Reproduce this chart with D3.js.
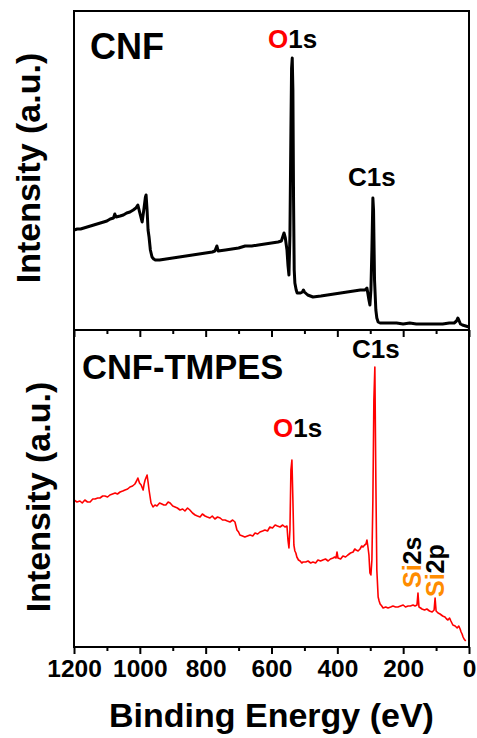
<!DOCTYPE html>
<html lang="en">
<head>
<meta charset="UTF-8">
<title>XPS survey</title>
<style>
  body { margin: 0; background: #fff; }
  text { font-family: "Liberation Sans", Arial, sans-serif; font-weight: bold; }
</style>
</head>
<body>
<div id="chart"></div>
<script src="https://d3js.org/d3.v7.min.js"></script>
<script>
// binding energy (eV) and intensity (a.u.)
var cnfEnergy = [1200,1190,1180,1170,1160,1150,1140,1130,1120,1110,1100,1090,1080,1076,1072,1060,1050,1040,1030,1020,1012,1006,1000,993,988,983,981,978,975,972,968,963,958,953,948,940,920,900,880,860,840,820,800,780,772,766,762,740,720,700,680,660,640,620,600,580,570,565,562,558,553,550,547,544,541,539,537,535,533,531,529,525,522,518,512,506,503,500,490,474,450,430,410,390,370,350,330,316,310,304,301,298,295,292,290,287,283,280,276,270,260,240,220,200,180,160,140,120,100,80,60,45,38,34,31,26,20,10,0];
var cnfIntensity = [100,101,101,102,103,104,105,106,107,108,109,111,112,116,113,114,115,117,118,120,122,125,117,108,120,133,135,120,100,93,80,73,71,70,70,70,71,72,73,74,75,76,77,78,79,84,79,80,81,82,84,84,85,86,87,88,89,94,97,92,80,65,55,95,200,262,272,240,130,60,47,40,37,37,37,38,40,38,35,33,34,35,36,37,38,39,40,40,42,30,25,40,80,132,120,50,20,12,8,7,7,7,7,6,7,6,6,6,6,6,7,7,9,12,10,6,5,4,3];

var tmpesEnergy = [1200,1191,1182,1175,1167,1159,1151,1143,1136,1128,1121,1113,1106,1098,1091,1083,1075,1068,1060,1052,1045,1037,1030,1022,1015,1010,1006,1001,996,990,987,984,978,975,972,966,960,954,948,940,933,927,921,914,908,900,893,886,878,870,863,855,848,840,832,825,817,810,802,795,787,780,772,764,756,749,741,734,726,718,711,708,705,700,696,688,681,673,665,657,650,642,635,627,620,612,605,597,589,582,574,566,559,553,550,547,544,541,538,535,532,529,526,523,518,513,508,504,496,489,481,474,466,459,451,444,436,428,421,413,408,404,401,398,390,383,375,368,360,352,347,343,337,331,326,322,317,313,310,307,304,301,298,295,292,289,286,283,280,276,273,270,265,261,253,246,238,231,223,216,208,200,193,185,178,170,164,158,155,152,147,143,135,128,120,112,109,106,103,100,94,88,80,73,68,64,59,55,52,49,42,36,31,27,24,21,18,15,10,6,3,0];
var tmpesIntensity = [147,145,146,144,147,145,145,148,148,149,149,151,151,150,152,153,154,153,155,156,157,158,160,161,163,166,169,164,162,157,163,167,172,165,157,144,140,142,141,144,143,142,142,145,144,141,140,139,137,138,136,139,137,134,132,131,130,133,131,130,129,131,128,130,129,127,127,126,125,127,125,121,117,115,112,111,110,111,112,111,114,113,115,116,117,116,120,119,122,121,120,122,120,121,107,99,117,177,187,147,102,96,94,90,87,86,84,85,85,86,84,85,84,87,86,87,88,86,88,89,90,89,95,89,88,91,90,92,94,95,98,97,96,98,101,100,102,103,107,100,92,74,72,87,147,247,280,167,77,50,46,43,41,39,40,39,40,41,40,40,41,42,40,41,41,42,41,42,54,40,39,38,37,38,36,35,36,37,49,36,34,33,31,30,28,27,29,26,24,22,21,19,21,18,15,13,10,8,6];

var xTicks = [1200, 1000, 800, 600, 400, 200, 0];
var xMinorTicks = [1100, 900, 700, 500, 300, 100];

var width = 477, height = 738;
var left = 74, right = 469, top1 = 11, mid = 330, bottom = 647;

var svg = d3.select("#chart").append("svg")
    .attr("width", width)
    .attr("height", height);

var x = d3.scaleLinear().domain([1200, 0]).range([left, right]);
var yTop = d3.scaleLinear().domain([0, 319]).range([mid, top1]);
var yBot = d3.scaleLinear().domain([0, 317]).range([bottom, mid]);

function series(en, inten) {
  return en.map(function (e, i) { return [e, inten[i]]; });
}

// top spectrum
svg.append("path")
    .datum(series(cnfEnergy, cnfIntensity))
    .attr("fill", "none")
    .attr("stroke", "#000")
    .attr("stroke-width", 3)
    .attr("stroke-linejoin", "round")
    .attr("d", d3.line().x(function (d) { return x(d[0]); }).y(function (d) { return yTop(d[1]); }));

// bottom spectrum
svg.append("path")
    .datum(series(tmpesEnergy, tmpesIntensity))
    .attr("fill", "none")
    .attr("stroke", "#ff0000")
    .attr("stroke-width", 1.6)
    .attr("stroke-linejoin", "round")
    .attr("d", d3.line().x(function (d) { return x(d[0]); }).y(function (d) { return yBot(d[1]); }));

// frames
var frame = svg.append("g").attr("fill", "none").attr("stroke", "#000").attr("stroke-width", 2);
frame.append("rect").attr("x", left).attr("y", top1).attr("width", right - left).attr("height", mid - top1);
frame.append("rect").attr("x", left).attr("y", mid).attr("width", right - left).attr("height", bottom - mid);

// x axes (ticks pointing outward/down)
function ticksAt(y, labels) {
  var ax = d3.axisBottom(x).tickValues(xTicks).tickSize(7).tickFormat(labels ? d3.format("d") : "");
  var g = svg.append("g").attr("transform", "translate(0," + y + ")").call(ax);
  g.select(".domain").remove();
  g.selectAll(".tick line").attr("stroke", "#000").attr("stroke-width", 2);
  g.selectAll(".tick text")
    .attr("fill", "#000")
    .attr("font-size", 24.5)
    .attr("y", 13)
    .attr("dy", "0.71em");
  var m = svg.append("g").attr("transform", "translate(0," + y + ")")
      .call(d3.axisBottom(x).tickValues(xMinorTicks).tickSize(4).tickFormat(""));
  m.select(".domain").remove();
  m.selectAll(".tick line").attr("stroke", "#000").attr("stroke-width", 2);
}
ticksAt(mid, false);
ticksAt(bottom, true);

svg.append("text")
    .attr("x", (left + right) / 2)
    .attr("y", 727)
    .attr("text-anchor", "middle")
    .attr("font-size", 34)
    .text("Binding Energy (eV)");

svg.append("text")
    .attr("transform", "translate(40,168) rotate(-90)")
    .attr("text-anchor", "middle")
    .attr("font-size", 34)
    .text("Intensity (a.u.)");
svg.append("text")
    .attr("transform", "translate(50,497) rotate(-90)")
    .attr("text-anchor", "middle")
    .attr("font-size", 34)
    .text("Intensity (a.u.)");

// panel names
svg.append("text").attr("x", 90).attr("y", 59).attr("font-size", 36).text("CNF");
svg.append("text").attr("x", 82).attr("y", 379).attr("font-size", 34.5).text("CNF-TMPES");

// peak labels
function peak(px, py, head, tail, color, rot) {
  var t = svg.append("text").attr("font-size", rot ? 25 : 26);
  if (rot) t.attr("transform", "translate(" + px + "," + py + ") rotate(-90)");
  else t.attr("x", px).attr("y", py);
  t.append("tspan").attr("fill", color).text(head);
  t.append("tspan").attr("fill", "#000").text(tail);
}
peak(268, 48, "O", "1s", "#ff0000");
peak(348, 186, "C", "1s", "#000");
peak(352, 358, "C", "1s", "#000");
peak(273, 437, "O", "1s", "#ff0000");
peak(421, 588, "Si", "2s", "#ff8c00", true);
peak(444, 597, "Si", "2p", "#ff8c00", true);
</script>
</body>
</html>
